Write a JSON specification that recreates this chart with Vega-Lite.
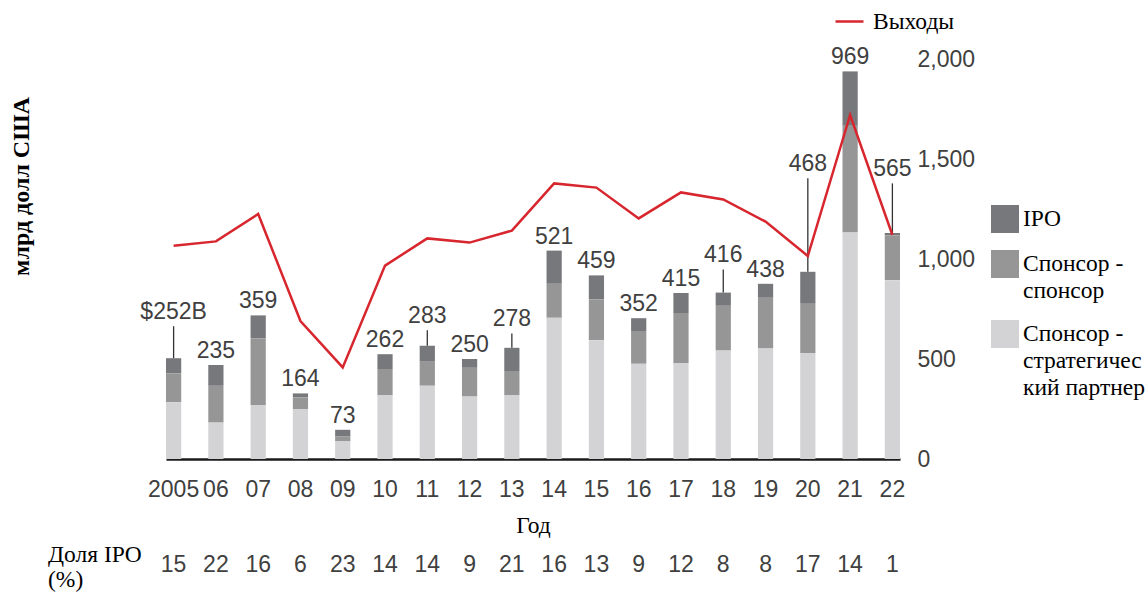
{
  "$schema": "https://vega.github.io/schema/vega-lite/v6.json",
  "width": 734,
  "height": 400,
  "autosize": {"type": "none"},
  "padding": {"left": 166, "top": 59, "right": 248, "bottom": 135},
  "background": "white",
  "config": {"view": {"stroke": null}, "font": "Liberation Sans"},
  "title": {"text": ["Доля IPO", "(%)"], "orient": "bottom", "anchor": "start", "frame": "group", "dx": -118, "dy": -44, "font": "Liberation Serif", "fontSize": 23.5, "fontWeight": "normal", "color": "black", "lineHeight": 25, "offset": 10},
  "datasets": {
    "bars": [
      {"year": "2005", "type": "IPO", "value": 38}, {"year": "2005", "type": "Спонсор - спонсор", "value": 72}, {"year": "2005", "type": "Спонсор - стратегический партнер", "value": 142},
      {"year": "2006", "type": "IPO", "value": 52}, {"year": "2006", "type": "Спонсор - спонсор", "value": 92}, {"year": "2006", "type": "Спонсор - стратегический партнер", "value": 91},
      {"year": "2007", "type": "IPO", "value": 57}, {"year": "2007", "type": "Спонсор - спонсор", "value": 167}, {"year": "2007", "type": "Спонсор - стратегический партнер", "value": 135},
      {"year": "2008", "type": "IPO", "value": 10}, {"year": "2008", "type": "Спонсор - спонсор", "value": 30}, {"year": "2008", "type": "Спонсор - стратегический партнер", "value": 124},
      {"year": "2009", "type": "IPO", "value": 17}, {"year": "2009", "type": "Спонсор - спонсор", "value": 12}, {"year": "2009", "type": "Спонсор - стратегический партнер", "value": 44},
      {"year": "2010", "type": "IPO", "value": 37}, {"year": "2010", "type": "Спонсор - спонсор", "value": 66}, {"year": "2010", "type": "Спонсор - стратегический партнер", "value": 159},
      {"year": "2011", "type": "IPO", "value": 40}, {"year": "2011", "type": "Спонсор - спонсор", "value": 60}, {"year": "2011", "type": "Спонсор - стратегический партнер", "value": 183},
      {"year": "2012", "type": "IPO", "value": 22}, {"year": "2012", "type": "Спонсор - спонсор", "value": 72}, {"year": "2012", "type": "Спонсор - стратегический партнер", "value": 156},
      {"year": "2013", "type": "IPO", "value": 58}, {"year": "2013", "type": "Спонсор - спонсор", "value": 60}, {"year": "2013", "type": "Спонсор - стратегический партнер", "value": 160},
      {"year": "2014", "type": "IPO", "value": 83}, {"year": "2014", "type": "Спонсор - спонсор", "value": 85}, {"year": "2014", "type": "Спонсор - стратегический партнер", "value": 353},
      {"year": "2015", "type": "IPO", "value": 60}, {"year": "2015", "type": "Спонсор - спонсор", "value": 102}, {"year": "2015", "type": "Спонсор - стратегический партнер", "value": 297},
      {"year": "2016", "type": "IPO", "value": 32}, {"year": "2016", "type": "Спонсор - спонсор", "value": 82}, {"year": "2016", "type": "Спонсор - стратегический партнер", "value": 238},
      {"year": "2017", "type": "IPO", "value": 50}, {"year": "2017", "type": "Спонсор - спонсор", "value": 125}, {"year": "2017", "type": "Спонсор - стратегический партнер", "value": 240},
      {"year": "2018", "type": "IPO", "value": 33}, {"year": "2018", "type": "Спонсор - спонсор", "value": 112}, {"year": "2018", "type": "Спонсор - стратегический партнер", "value": 271},
      {"year": "2019", "type": "IPO", "value": 35}, {"year": "2019", "type": "Спонсор - спонсор", "value": 127}, {"year": "2019", "type": "Спонсор - стратегический партнер", "value": 276},
      {"year": "2020", "type": "IPO", "value": 80}, {"year": "2020", "type": "Спонсор - спонсор", "value": 124}, {"year": "2020", "type": "Спонсор - стратегический партнер", "value": 264},
      {"year": "2021", "type": "IPO", "value": 136}, {"year": "2021", "type": "Спонсор - спонсор", "value": 267}, {"year": "2021", "type": "Спонсор - стратегический партнер", "value": 566},
      {"year": "2022", "type": "IPO", "value": 6}, {"year": "2022", "type": "Спонсор - спонсор", "value": 112}, {"year": "2022", "type": "Спонсор - стратегический партнер", "value": 447}
    ],
    "years": [
      {"year": "2005", "total": 252, "label": "$252B", "label_pos": 332, "exits": 1066, "ipo_share": 15},
      {"year": "2006", "total": 235, "label": "235", "label_pos": 235, "exits": 1088, "ipo_share": 22},
      {"year": "2007", "total": 359, "label": "359", "label_pos": 359, "exits": 1225, "ipo_share": 16},
      {"year": "2008", "total": 164, "label": "164", "label_pos": 164, "exits": 690, "ipo_share": 6},
      {"year": "2009", "total": 73, "label": "73", "label_pos": 73, "exits": 458, "ipo_share": 23},
      {"year": "2010", "total": 262, "label": "262", "label_pos": 262, "exits": 967, "ipo_share": 14},
      {"year": "2011", "total": 283, "label": "283", "label_pos": 322, "exits": 1103, "ipo_share": 14},
      {"year": "2012", "total": 250, "label": "250", "label_pos": 250, "exits": 1082, "ipo_share": 9},
      {"year": "2013", "total": 278, "label": "278", "label_pos": 314, "exits": 1142, "ipo_share": 21},
      {"year": "2014", "total": 521, "label": "521", "label_pos": 521, "exits": 1378, "ipo_share": 16},
      {"year": "2015", "total": 459, "label": "459", "label_pos": 459, "exits": 1357, "ipo_share": 13},
      {"year": "2016", "total": 352, "label": "352", "label_pos": 352, "exits": 1203, "ipo_share": 9},
      {"year": "2017", "total": 415, "label": "415", "label_pos": 415, "exits": 1333, "ipo_share": 12},
      {"year": "2018", "total": 416, "label": "416", "label_pos": 474, "exits": 1298, "ipo_share": 8},
      {"year": "2019", "total": 438, "label": "438", "label_pos": 438, "exits": 1187, "ipo_share": 8},
      {"year": "2020", "total": 468, "label": "468", "label_pos": 702, "exits": 1015, "ipo_share": 17},
      {"year": "2021", "total": 969, "label": "969", "label_pos": 969, "exits": 1720, "ipo_share": 14},
      {"year": "2022", "total": 565, "label": "565", "label_pos": 689, "exits": 1120, "ipo_share": 1}
    ]
  },
  "encoding": {
    "x": {
      "field": "year",
      "type": "ordinal",
      "scale": {"paddingInner": 0.64, "paddingOuter": 0},
      "axis": {
        "title": "Год",
        "labelExpr": "datum.value == '2005' ? '2005' : slice(datum.value, 2)",
        "labelAngle": 0,
        "labelFont": "Liberation Sans",
        "labelFontSize": 23,
        "labelColor": "#404040",
        "labelPadding": 30,
        "labelBaseline": "middle",
        "ticks": false,
        "domainColor": "#1a1a1a",
        "domainWidth": 2.5,
        "titleFont": "Liberation Serif",
        "titleFontSize": 23.5,
        "titleFontWeight": "normal",
        "titleColor": "black",
        "titleY": 66,
        "titleBaseline": "middle"
      }
    }
  },
  "layer": [
    {
      "layer": [
        {
          "data": {"name": "bars"},
          "transform": [
            {"calculate": "indexof(['Спонсор - стратегический партнер', 'Спонсор - спонсор', 'IPO'], datum.type)", "as": "stack_rank"}
          ],
          "mark": {"type": "bar"},
          "encoding": {
            "y": {
              "field": "value",
              "type": "quantitative",
              "stack": "zero",
              "title": "млрд долл США",
              "scale": {"domain": [0, 1000]},
              "axis": {
                "labels": false,
                "ticks": false,
                "domain": false,
                "grid": false,
                "titleFont": "Liberation Serif",
                "titleFontSize": 24,
                "titleFontWeight": "bold",
                "titleColor": "black",
                "titleX": -145,
                "titleY": 127,
                "titleAngle": -90,
                "titleBaseline": "middle",
                "titleAlign": "center"
              }
            },
            "order": {"field": "stack_rank", "type": "quantitative"},
            "color": {
              "field": "type",
              "type": "nominal",
              "scale": {
                "domain": ["IPO", "Спонсор - спонсор", "Спонсор - стратегический партнер"],
                "range": ["#77787c", "#969696", "#d3d3d5"]
              },
              "legend": {
                "orient": "none",
                "legendX": 825,
                "legendY": 146,
                "title": null,
                "padding": 0,
                "symbolType": "square",
                "symbolSize": 784,
                "symbolStrokeWidth": 0,
                "symbolOpacity": 1,
                "labelFont": "Liberation Serif",
                "labelFontSize": 23.5,
                "labelColor": "black",
                "labelOffset": 4,
                "labelLimit": 300,
                "rowPadding": 17,
                "labelExpr": "datum.label == 'IPO' ? '\u00a0\u00a0IPO' : datum.label == 'Спонсор - спонсор' ? ['Спонсор -', 'спонсор'] : ['Спонсор -', 'стратегичес', 'кий партнер']",
                "encode": {"labels": {"update": {"lineHeight": {"value": 27}}}}
              }
            }
          }
        },
        {
          "data": {"name": "years"},
          "transform": [{"filter": "datum.label_pos > datum.total"}],
          "mark": {"type": "rule", "color": "#333333", "strokeWidth": 1.3},
          "encoding": {
            "y": {"field": "total", "type": "quantitative", "title": "млрд долл США"},
            "y2": {"field": "label_pos"}
          }
        },
        {
          "data": {"name": "years"},
          "mark": {"type": "text", "baseline": "alphabetic", "dy": -7, "fontSize": 23, "color": "#404040", "font": "Liberation Sans"},
          "encoding": {
            "y": {"field": "label_pos", "type": "quantitative", "title": "млрд долл США"},
            "text": {"field": "label", "type": "nominal"}
          }
        },
        {
          "data": {"name": "years"},
          "mark": {"type": "text", "baseline": "middle", "fontSize": 23, "color": "#404040", "font": "Liberation Sans"},
          "encoding": {
            "y": {"datum": -265, "type": "quantitative"},
            "text": {"field": "ipo_share", "type": "quantitative"}
          }
        }
      ]
    },
    {
      "data": {"name": "years"},
      "mark": {"type": "line", "strokeWidth": 2.5},
      "encoding": {
        "y": {
          "field": "exits",
          "type": "quantitative",
          "scale": {"domain": [0, 2000]},
          "axis": {
            "orient": "right",
            "title": null,
            "values": [0, 500, 1000, 1500, 2000],
            "format": ",.0f",
            "labelFont": "Liberation Sans",
            "labelFontSize": 23,
            "labelColor": "#404040",
            "labelPadding": 17,
            "ticks": false,
            "domain": false,
            "grid": false
          }
        },
        "stroke": {
          "datum": "Выходы",
          "type": "nominal",
          "scale": {"range": ["#d7262e"]},
          "legend": {
            "orient": "none",
            "legendX": 668,
            "legendY": -53,
            "title": null,
            "padding": 0,
            "symbolType": "stroke",
            "symbolSize": 784,
            "symbolStrokeWidth": 2.5,
            "labelFont": "Liberation Serif",
            "labelFontSize": 23.5,
            "labelColor": "black",
            "labelOffset": 8
          }
        }
      }
    }
  ],
  "resolve": {"scale": {"y": "independent"}}
}
